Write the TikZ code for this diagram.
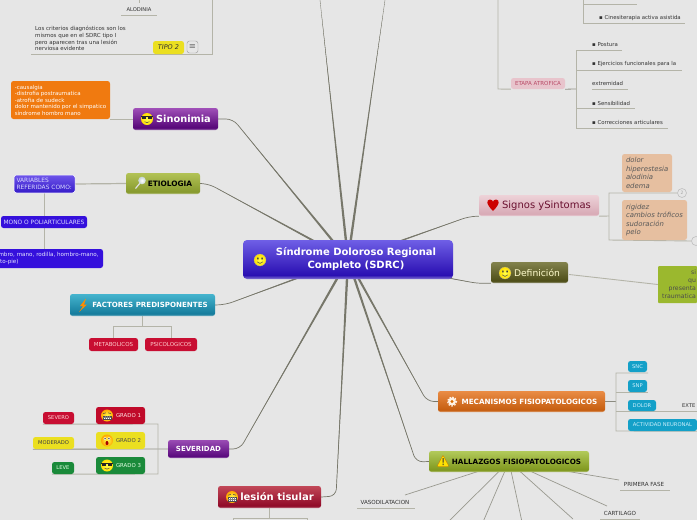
\documentclass[tikz,border=0pt]{standalone}
\usepackage{fontspec}
\setmainfont{DejaVu Sans}
\usetikzlibrary{calc}
\pgfdeclarelayer{paper}\pgfdeclarelayer{links}
\pgfsetlayers{paper,links,main}
\definecolor{paperc}{HTML}{E6E6E6}
\definecolor{trunk}{HTML}{77776A}
\definecolor{twig}{HTML}{B4B4A8}
\newcommand\dc[1]{\definecolor{c#1}{HTML}{#1}}
\dc{6F5FE6}\dc{2A0FB2}\dc{A050B8}\dc{560678}\dc{F07A10}\dc{B2C255}\dc{879A2E}\dc{6E55EA}\dc{3A20CC}\dc{3510DC}
\dc{45B4CE}\dc{157C9C}\dc{C80E32}\dc{9A4CB4}\dc{5A0A7E}\dc{C00A2A}\dc{EBDF20}\dc{1A8A3A}\dc{C24858}\dc{900A28}
\dc{EDD2D8}\dc{D8AAB6}\dc{6A1030}\dc{E6BFA0}\dc{82824C}\dc{4E4E18}\dc{9BB82E}\dc{EA8C45}\dc{C65E10}\dc{14A0C8}
\dc{B2CA5A}\dc{80981F}\dc{E8C4CC}\dc{B84A66}
\makeatletter
\pgfdeclareverticalshading[tikz@axis@top,tikz@axis@bottom]{bev}{100bp}{color(0bp)=(tikz@axis@bottom!65!white); color(26bp)=(tikz@axis@bottom!65!white); color(30bp)=(tikz@axis@bottom); color(75bp)=(tikz@axis@top); color(100bp)=(tikz@axis@top)}
\makeatother
\newcommand\bx[7]{\node[#2,minimum width={(#5-#3)*1pt},minimum height={(#6-#4)*1pt}] (#1) at ({(#3+#5)/2},{(#4+#6)/2}) {#7};}
\newcommand\fs[2]{\fontsize{#1}{#2}\selectfont}
\newcommand\taper[2]{\fill[trunk] ($(#1)!1.3pt!90:(#2)$) -- ($(#1)!0.94!(#2)$) -- ($(#1)!1.3pt!-90:(#2)$) -- cycle;}
\tikzset{
 x=1pt,y=-1pt,
 box/.style={rounded corners=2.5pt,inner sep=0pt,align=center},
 grad/.style 2 args={box,top color=c#1,bottom color=c#2,shading=bev},
 trunkline/.style={draw=trunk,line width=0.7pt,rounded corners=7pt},
 twigline/.style={draw=twig,line width=0.9pt},
 darktwig/.style={draw=trunk!80,line width=0.8pt},
 ray/.style={draw=twig!85!black,line width=0.7pt},
 plain/.style={inner sep=0pt,align=left,text=black!80},
}
\newcommand\face[3]{\begin{scope}[shift={(#1,#2)}]
 \shade[inner color=yellow!70!white,outer color=yellow!75!orange] (0,0) circle (#3);
 \draw[black!35,line width=0.2pt] (0,0) circle (#3);
 \fill[black!75] (-0.35*#3,-0.25*#3) ellipse ({0.13*#3} and {0.25*#3}) (0.35*#3,-0.25*#3) ellipse ({0.13*#3} and {0.25*#3});
 \draw[black!70,line width=0.5pt] (-0.5*#3,0.3*#3) .. controls (-0.2*#3,0.65*#3) and (0.2*#3,0.65*#3) .. (0.5*#3,0.3*#3);
\end{scope}}
\newcommand\cool[3]{\begin{scope}[shift={(#1,#2)}]
 \shade[inner color=yellow!70!white,outer color=yellow!75!orange] (0,0) circle (#3);
 \fill[black!85] (-#3,-0.5*#3) rectangle (#3,-0.3*#3);
 \fill[black!85] (-0.8*#3,-0.45*#3) rectangle (-0.1*#3,0);
 \fill[black!85] (0.1*#3,-0.45*#3) rectangle (0.8*#3,0);
 \draw[black!70,line width=0.5pt] (-0.4*#3,0.45*#3) .. controls (-0.1*#3,0.65*#3) and (0.1*#3,0.65*#3) .. (0.4*#3,0.45*#3);
\end{scope}}
\newcommand\grin[3]{\begin{scope}[shift={(#1,#2)}]
 \shade[inner color=yellow!70!white,outer color=orange!70!yellow] (0,0) circle (#3);
 \draw[black!70,line width=0.5pt] (-0.65*#3,-0.3*#3) -- (-0.2*#3,-0.45*#3) (0.65*#3,-0.3*#3) -- (0.2*#3,-0.45*#3);
 \fill[white,draw=black!70,line width=0.3pt] (-0.7*#3,0.05*#3) rectangle (0.7*#3,0.65*#3);
 \draw[black!50,line width=0.25pt] (-0.7*#3,0.35*#3) -- (0.7*#3,0.35*#3) (0,0.05*#3) -- (0,0.65*#3) (-0.35*#3,0.05*#3) -- (-0.35*#3,0.65*#3) (0.35*#3,0.05*#3) -- (0.35*#3,0.65*#3);
\end{scope}}
\newcommand\shock[3]{\begin{scope}[shift={(#1,#2)}]
 \shade[inner color=yellow!70!white,outer color=orange!70!yellow] (0,0) circle (#3);
 \fill[white] (-0.33*#3,-0.3*#3) circle (0.25*#3) (0.33*#3,-0.3*#3) circle (0.25*#3);
 \fill[black] (-0.33*#3,-0.3*#3) circle (0.12*#3) (0.33*#3,-0.3*#3) circle (0.12*#3);
 \fill[red!65!black] (0,0.42*#3) ellipse ({0.25*#3} and {0.35*#3});
\end{scope}}
\begin{document}
\begin{tikzpicture}
\useasboundingbox (0,0) rectangle (697,520);
\begin{pgfonlayer}{paper}
 \fill[paperc] (0,0) rectangle (697,520);
\end{pgfonlayer}

% central
\bx{main}{grad={6F5FE6}{2A0FB2},rounded corners=4pt,text=white,font=\bfseries\fs{10}{13}}{243}{240}{453}{279}{\hspace*{16pt}Síndrome Doloroso Regional\\\hspace*{16pt}Completo (SDRC)}
\face{260}{260}{6}

% left branches
\bx{sino}{grad={A050B8}{560678},text=white,font=\bfseries\fs{9.8}{12}}{133}{108}{218}{130}{\hspace*{16pt}Sinonimia}
\cool{147}{119}{6}
\bx{naranja}{box,fill=cF07A10,text=white,font=\fs{5.5}{6.5},align=left}{11}{81}{110}{119}{-causalgia\\-distrofia postraumatica\\-atrofia de sudeck\\dolor mantenido por el simpatico\\síndrome hombro mano}

\bx{etio}{grad={B2C255}{879A2E},text=black,font=\bfseries\fs{7.4}{8}}{126}{173}{200}{194}{\hspace*{14pt}ETIOLOGIA}
\bx{vari}{grad={6E55EA}{3A20CC},draw=white,line width=0.5pt,text=white!85!blue,font=\fs{5.9}{7},align=left,text width=56pt}{14}{175}{75}{193}{VARIABLES\\REFERIDAS COMO:}
\bx{mono}{box,fill=c3510DC,text=white!85!blue,font=\fs{5.9}{7}}{1}{216}{87}{228}{MONO O POLIARTICULARES}
\bx{miem}{box,fill=c3510DC,text=white!90!blue,font=\fs{5.6}{6.5},align=left,text width=103pt}{-3}{249}{103}{268}{mbro, mano, rodilla, hombro-mano,\\lto-pie)}

\bx{fact}{grad={45B4CE}{157C9C},text=white,font=\bfseries\fs{7.1}{8}}{70}{294}{215}{316}{\hspace*{15pt}FACTORES PREDISPONENTES}
\bx{meta}{box,fill=cC80E32,text=white!80!red,font=\fs{5.5}{6}}{89}{338}{138}{351}{METABOLICOS}
\bx{psi}{box,fill=cC80E32,text=white!80!red,font=\fs{5.5}{6}}{145}{338}{197}{351}{PSICOLOGICOS}

\bx{sev}{grad={9A4CB4}{5A0A7E},text=white,font=\bfseries\fs{7}{8}}{168}{440}{229}{458}{SEVERIDAD}
\bx{g1}{box,fill=cC00A2A,text=white!90!red,font=\fs{5.4}{6}}{96}{407}{145}{424}{\hspace*{16pt}GRADO 1}
\bx{g2}{box,fill=cEBDF20,text=black!70,font=\fs{5.4}{6}}{96}{432}{145}{449}{\hspace*{16pt}GRADO 2}
\bx{g3}{box,fill=c1A8A3A,text=white!90!green,font=\fs{5.4}{6}}{96}{457}{145}{474}{\hspace*{16pt}GRADO 3}
\grin{107}{415.5}{6}
\shock{107}{440.5}{6}
\cool{107}{465.5}{6}
\bx{severo}{box,fill=cC80E32,text=white!85!red,font=\fs{5.2}{6}}{43}{412}{74}{424}{SEVERO}
\bx{modo}{box,fill=cEBDF20,text=black!75,font=\fs{5.2}{6}}{33}{437}{74}{449}{MODERADO}
\bx{leve}{box,fill=c1A8A3A,text=white!90!green,font=\fs{5.2}{6}}{52}{462}{74}{474}{LEVE}

\bx{lesion}{grad={C24858}{900A28},text=white,font=\bfseries\fs{10}{12}}{218}{486}{321}{508}{\hspace*{15pt}lesión tisular}
\grin{232}{497}{6}

% top left
\node[plain,font=\fs{5.5}{6.7},anchor=north west] (crit) at (35,26) {Los criterios diagnósticos son los\\mismos que en el SDRC tipo I\\pero aparecen tras una lesión\\nerviosa evidente};
\node[plain,font=\fs{5.2}{6}] (alo) at (139,10) {ALODINIA};
\bx{tipo}{box,fill=cEBDF20,text=black!80,font=\itshape\fs{6.5}{8}}{153}{41}{184}{54}{TIPO 2}
\bx{menu}{box,fill=paperc,draw=black!40,line width=0.4pt,font=\fs{8}{8}}{187}{41}{198}{53}{$\equiv$}

% right
\bx{signos}{grad={EDD2D8}{D8AAB6},text=c6A1030,font=\fs{10}{12}}{479}{195}{599}{216}{\hspace*{15pt}Signos ySintomas}
\fill[red!80!black] (493,211) .. controls (486,204) and (486,200) .. (490,199.5) .. controls (492,199.5) and (493,201) .. (493,202) .. controls (493,201) and (494,199.5) .. (496,199.5) .. controls (500,200) and (500,204) .. (493,211) -- cycle;
\bx{dolor}{box,fill=cE6BFA0,text=black!65,font=\itshape\fs{6.9}{8.4},align=left,text width=42pt}{622}{154}{672}{192}{dolor\\hiperestesia\\alodinia\\edema}
\bx{rigi}{box,fill=cE6BFA0,text=black!65,font=\itshape\fs{6.9}{8.4},align=left,text width=57pt}{622}{200}{687}{240}{rigidez\\cambios tróficos\\sudoración\\pelo}
\node[circle,draw=black!25,fill=paperc,line width=0.6pt,minimum size=9pt,inner sep=0pt,text=black!35,font=\fs{4.5}{5}] (uno) at (682,193) {2};
\node[circle,draw=black!25,fill=paperc,line width=0.6pt,minimum size=9pt,inner sep=0pt] (dos) at (696,241) {};

\bx{defi}{grad={82824C}{4E4E18},text=white!80!yellow,font=\fs{9.2}{10}}{491}{262}{568}{283}{\hspace*{15pt}Definición}
\face{505}{273}{6}
\bx{verde}{box,rounded corners=1pt,fill=c9BB82E,text=black!70,font=\fs{6.2}{8},align=right,text width=37pt}{658}{266}{697}{303}{si\\qu\\presenta\\traumatica}

\bx{meca}{grad={EA8C45}{C65E10},text=white,font=\bfseries\fs{7.2}{8}}{438}{391}{605}{412}{\hspace*{16pt}MECANISMOS FISIOPATOLOGICOS}
\bx{snc}{box,fill=c14A0C8,text=white!80!cyan,font=\fs{5.2}{6}}{628}{361}{647}{372}{SNC}
\bx{snp}{box,fill=c14A0C8,text=white!80!cyan,font=\fs{5.2}{6}}{628}{380}{647}{392}{SNP}
\bx{dol}{box,fill=c14A0C8,text=white!80!cyan,font=\fs{5.2}{6}}{628}{400}{656}{411}{DOLOR}
\bx{acti}{box,fill=c14A0C8,text=white!80!cyan,font=\fs{5.2}{6}}{628}{419}{697}{431}{ACTIVIDAD NEURONAL}
\node[plain,font=\fs{5.2}{6},anchor=west] (exte) at (682,405.5) {EXTE};

\bx{hall}{grad={B2CA5A}{80981F},text=black,font=\bfseries\fs{7.2}{8}}{429}{451}{589}{472}{\hspace*{15pt}HALLAZGOS FISIOPATOLOGICOS}
\node[plain,font=\fs{5.6}{6}] (vaso) at (385,502) {VASODILATACION};
\node[plain,font=\fs{5.6}{6}] (prim) at (644,484) {PRIMERA FASE};
\node[plain,font=\fs{5.6}{6}] (carti) at (620,513) {CARTILAGO};

% warning sign, gear, bolt, magnifier
\fill[yellow!85!orange,draw=orange!80!black,line width=0.3pt,rounded corners=1pt] (437,466.5) -- (443,455) -- (449,466.5) -- cycle;
\fill[black!80] (442.5,458) rectangle (443.7,462.5) (442.5,463.5) rectangle (443.7,465);
\fill[white!90!orange] (452,401.5) circle (4);
\draw[white!90!orange,line width=1.2pt,dash pattern=on 1.5pt off 1.5pt] (452,401.5) circle (4.5);
\fill[orange!85!black] (452,401.5) circle (1.6);
\fill[orange!90!yellow] (86,298.5) -- (80,306) -- (83,306) -- (79,312) -- (87,304.5) -- (84,304.5) -- cycle;
\draw[white!75!gray,line width=1.2pt] (135.5,188.5) -- (140,183);
\shade[inner color=white,outer color=cyan!15!gray!40] (142,180.5) circle (3.8);

% upper right labels
\bx{etapa}{box,fill=cE8C4CC,text=cB84A66,font=\fs{5.5}{6}}{511}{78}{565}{89}{ETAPA ATROFICA}
\node[plain,font=\fs{5.4}{6},anchor=west] (cine) at (599,18) {▪ Cinesiterapia activa asistida};
\node[plain,font=\fs{5.4}{6},anchor=west] (post) at (592,45) {▪ Postura};
\node[plain,font=\fs{5.4}{6},anchor=west] (ejer) at (592,64) {▪ Ejercicios funcionales para la};
\node[plain,font=\fs{5.4}{6},anchor=west] (extr) at (592,83.5) {extremidad};
\node[plain,font=\fs{5.4}{6},anchor=west] (sens) at (592,103.5) {▪ Sensibilidad};
\node[plain,font=\fs{5.4}{6},anchor=west] (corr) at (592,122.5) {▪ Correcciones articulares};

% free ends and elbows
\coordinate (topa) at (320,0);
\coordinate (topb) at (385,0);
\coordinate (ra) at (405,495);
\coordinate (rb) at (448,522);
\coordinate (rc) at (483,522);
\coordinate (rd) at (522,522);
\coordinate (re) at (573,519);
\coordinate (rf) at (607,506);
\coordinate (rg) at (619,480);
\coordinate (esino) at (233,119);
\coordinate (eetio) at (209,184);
\coordinate (esig) at (469,216.5);
\coordinate (efac) at (226,304.5);
\coordinate (esev) at (240,449);
\coordinate (eles) at (336,496);
\coordinate (ehal) at (416,462);
\coordinate (emec) at (427,401.5);
\coordinate (edef) at (478,283.5);

\begin{pgfonlayer}{links}
 \draw[trunkline] (sino.east) -- (esino) -- (main.center);
 \draw[trunkline] (etio.east) -- (eetio) -- (main.center);
 \draw[trunkline] (signos.south west) -- (esig) -- (main.center);
 \draw[trunkline] (fact.east) -- (efac) -- (main.center);
 \draw[trunkline] (sev.east) -- (esev) -- (main.center);
 \draw[trunkline] (lesion.east) -- (eles) -- (main.center);
 \draw[trunkline] (hall.west) -- (ehal) -- (main.center);
 \draw[trunkline] (meca.west) -- (emec) -- (main.center);
 \draw[trunkline] (defi.south west) -- (edef) -- (main.center);
 \taper{main.center}{esino}
 \taper{main.center}{eetio}
 \taper{main.center}{topa}
 \taper{main.center}{topb}
 \taper{main.center}{esig}
 \taper{main.center}{efac}
 \taper{main.center}{esev}
 \taper{main.center}{eles}
 \taper{main.center}{ehal}
 \taper{main.center}{emec}
 \taper{main.center}{edef}
 \draw[trunk,line width=0.35pt] (main.center) -- (topa);
 \draw[trunk,line width=0.35pt] (main.center) -- (topb);

 \draw[twigline,line width=1.3pt] (naranja.south east) -- (sino.west |- naranja.south);
 \draw[twigline,line width=1.2pt] (vari.east) -- (etio.west);
 \draw[twigline] (vari.south) -- (vari.south |- mono.north);
 \draw[twigline] (vari.south |- mono.south) -- (vari.south |- miem.north);
 \draw[twigline] (fact.south) -- (142.5,326);
 \draw[twigline] (meta.north) -- (113.5,326) -- (171,326) -- (psi.north);
 \draw[darktwig] (sev.west) -- (modo.south west);
 \draw[twigline] (severo.south west) -- (158,424) -- (158,474) -- (leve.south west);
 \draw[twigline] (lesion.south) -- (269.5,518);
 \draw[twigline] (233,522) -- (233,518) -- (307,518) -- (307,522);

 \draw[twigline] (31,54) -- (212,54) -- (212,0);
 \draw[twigline] (121,15) -- (157,15);
 \draw[twigline] (139,0) -- (139,3);

 \draw[twigline] (498,0) -- (498,89) -- (etapa.south west);
 \draw[twigline] (583,0) -- (583,23) -- (685,23);
 \draw[twigline] (583,4) -- (637,4);
 \draw[darktwig] (etapa.south east) -- (576,89);
 \draw[twigline] (622,50) -- (576,50) -- (576,128) -- (668,128);
 \draw[twigline] (576,70) -- (682,70);
 \draw[twigline] (592,89) -- (628,89);
 \draw[twigline] (576,108) -- (635,108);

 \draw[twigline] (signos.south east) -- (609,216);
 \draw[twigline] (uno.west) -- (609,193) -- (609,240) -- (dos.west);
 \draw[twigline] (defi.east) ++(1,2) -- (verde.west);

 \draw[trunk!85,line width=1.4pt] (meca.east) -- (616,401.5);
 \draw[twigline] (648,373) -- (616,373) -- (616,431) -- (acti.south east);
 \draw[twigline] (616,392) -- (648,392);
 \draw[twigline] (616,411) -- (697,411);

 \draw[ray] (hall.center) -- (ra);
 \draw[ray] (hall.center) -- (rb);
 \draw[ray] (hall.center) -- (rc);
 \draw[ray] (hall.center) -- (rd);
 \draw[ray] (hall.center) -- (re);
 \draw[ray] (hall.center) -- (rf);
 \draw[ray] (hall.center) -- (rg);
 \draw[twigline] (357,508) -- (415,508);
 \draw[twigline] (620,490) -- (670,490);
 \draw[twigline] (600,519) -- (640,519);
\end{pgfonlayer}
\end{tikzpicture}
\end{document}
